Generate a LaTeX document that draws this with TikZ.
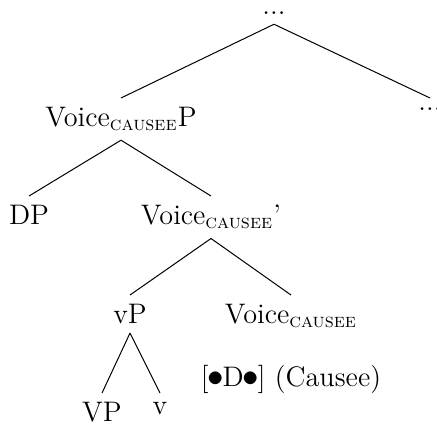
\documentclass[tikz,border=0pt]{standalone}
\usepackage{amsmath}
\newcommand{\causee}{\textsubscript{\textsc{causee}}}
\newcommand{\featdot}{\makebox[0.5em]{\scalebox{1.2}{$\bullet$}}}
\begin{document}
\begin{tikzpicture}[x=0.4pt, y=-0.4pt, font=\fontsize{11.3}{13.6}\selectfont,
    cat/.style={anchor=north, inner sep=3.5pt}]
    \useasboundingbox (0,0) rectangle (437,428);
    % categories, placed by their top
    \node[cat] (top) at (274,3) {...};
    \node[cat] (vceP) at (121,98) {Voice\causee P};
    \node[cat] (rdots) at (430,98) {...};
    \node[cat] (dp) at (29,196) {DP};
    \node[cat] (vceBar) at (211,196) {Voice\causee'};
    \node[cat] (vp) at (130,295) {vP};
    \node[cat] (vce) at (291,295) {Voice\causee};
    \node[cat] (bigvp) at (102,393) {VP};
    \node[cat] (littlev) at (160,393) {v};
    \node[anchor=base] (feat) at (291,386) {[\featdot D\featdot] (Causee)};
    % branches
    \draw (top.south) -- (vceP.north);
    \draw (top.south) -- (rdots.north);
    \draw (vceP.south) -- (dp.north);
    \draw (vceP.south) -- (vceBar.north);
    \draw (vceBar.south) -- (vp.north);
    \draw (vceBar.south) -- (vce.north);
    \draw (vp.south) -- (bigvp.north);
    \draw (vp.south) -- (littlev.north);
\end{tikzpicture}
\end{document}
